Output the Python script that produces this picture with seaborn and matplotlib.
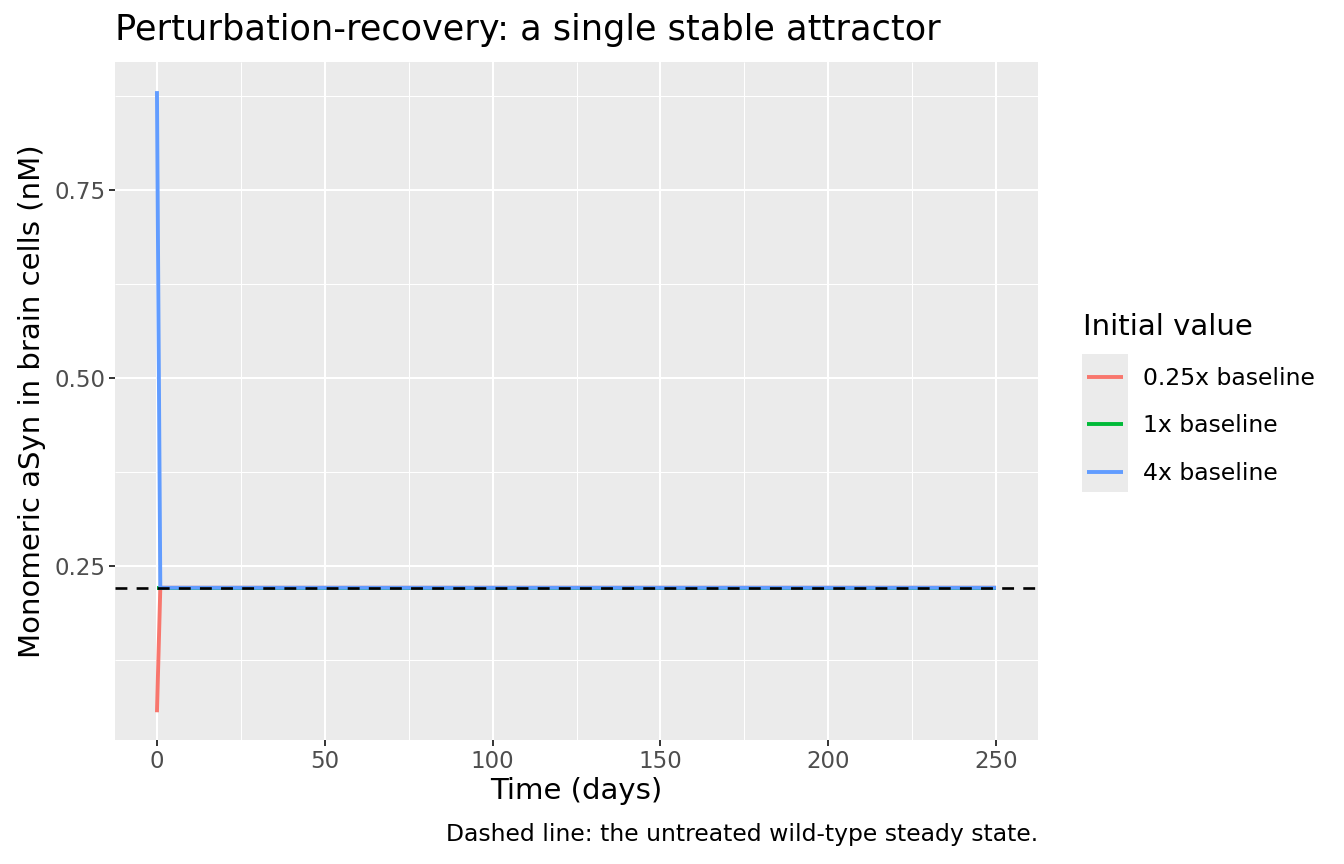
import matplotlib
matplotlib.use("Agg")
import matplotlib.pyplot as plt
import matplotlib.patches as mpatches
import pandas as pd
import seaborn as sns

# values
time_days = [0, 1, 5, 10, 25, 50, 75, 100, 125, 150, 175, 200, 225, 250]
low_start = [0.0552, 0.2207, 0.2207, 0.2207, 0.2207, 0.2207, 0.2207,
             0.2207, 0.2207, 0.2207, 0.2207, 0.2207, 0.2207, 0.2207]
base_start = [0.2207, 0.2207, 0.2207, 0.2207, 0.2207, 0.2207, 0.2207,
              0.2207, 0.2207, 0.2207, 0.2207, 0.2207, 0.2207, 0.2207]
high_start = [0.881, 0.2207, 0.2207, 0.2207, 0.2207, 0.2207, 0.2207,
              0.2207, 0.2207, 0.2207, 0.2207, 0.2207, 0.2207, 0.2207]
series_names = ["0.25x baseline", "1x baseline", "4x baseline"]
series_colors = ["#F8766D", "#00BA38", "#619CFF"]
steady_state = 0.2207

df = pd.concat([
    pd.DataFrame({"time": time_days, "value": vals, "init": name})
    for name, vals in zip(series_names, [low_start, base_start, high_start])
])

sns.set_theme(style="darkgrid", rc={
    "axes.facecolor": "#EBEBEB",
    "grid.color": "white",
    "text.color": "black",
    "axes.labelcolor": "black",
    "lines.solid_capstyle": "butt",
})
plt.rcParams["font.family"] = ["DejaVu Sans"]

W, H = 1344, 864
fig = plt.figure(figsize=(W / 100, H / 100), dpi=100)
ax = fig.add_axes([115 / W, 1 - 740 / H, (1038 - 115) / W, (740 - 62) / H])

sns.lineplot(data=df, x="time", y="value", hue="init", hue_order=series_names,
             palette=series_colors, linewidth=2.8, ax=ax, legend=True,
             estimator=None, sort=False)
ax.axhline(steady_state, color="black", linestyle=(0, (4.5, 3.5)), linewidth=1.9, zorder=5)

ax.set_xlim(-12.5, 262.5)
ax.set_ylim(0.0183, 0.9197)
ax.set_xticks([0, 50, 100, 150, 200, 250])
ax.set_xticks([25, 75, 125, 175, 225], minor=True)
ax.set_yticks([0.25, 0.5, 0.75])
ax.set_yticklabels(["0.25", "0.50", "0.75"])
ax.set_yticks([0.125, 0.375, 0.625, 0.875], minor=True)
ax.grid(which="major", color="white", linewidth=1.5)
ax.grid(which="minor", color="white", linewidth=0.75)
for s in ax.spines.values():
    s.set_visible(False)
ax.tick_params(axis="both", which="major", length=4, width=1.4, color="#333333",
               labelcolor="#4D4D4D", labelsize=16.5, pad=3, bottom=True, left=True)
ax.tick_params(which="minor", length=0)

ax.set_xlabel("Time (days)", fontsize=21, labelpad=3)
ax.set_ylabel("Monomeric aSyn in brain cells (nM)", fontsize=21, labelpad=6)

fig.text(115 / W, 1 - 30 / H, "Perturbation-recovery: a single stable attractor",
         fontsize=25.3, ha="left", va="center")
fig.text(1038 / W, 1 - 835 / H, "Dashed line: the untreated wild-type steady state.",
         fontsize=16.9, ha="right", va="center")

# legend, ggplot style with a grey key column
handles, labels = ax.get_legend_handles_labels()
ax.legend_.remove()
fig.patches.append(mpatches.Rectangle((1082 / W, 1 - 492 / H), 46 / W, 138 / H,
                                      transform=fig.transFigure, facecolor="#EBEBEB",
                                      edgecolor="none", zorder=0))
fig.text(1083 / W, 1 - 327 / H, "Initial value", fontsize=21, ha="left", va="center")
leg = fig.legend(handles, labels, loc="upper left",
                 bbox_to_anchor=(1087 / W, 1 - 367 / H), frameon=False,
                 fontsize=16.9, handlelength=1.53, handletextpad=0.85,
                 labelspacing=1.04, borderpad=0, borderaxespad=0)
for line in leg.get_lines():
    line.set_linewidth(2.8)

fig.savefig("out.png", dpi=100)
